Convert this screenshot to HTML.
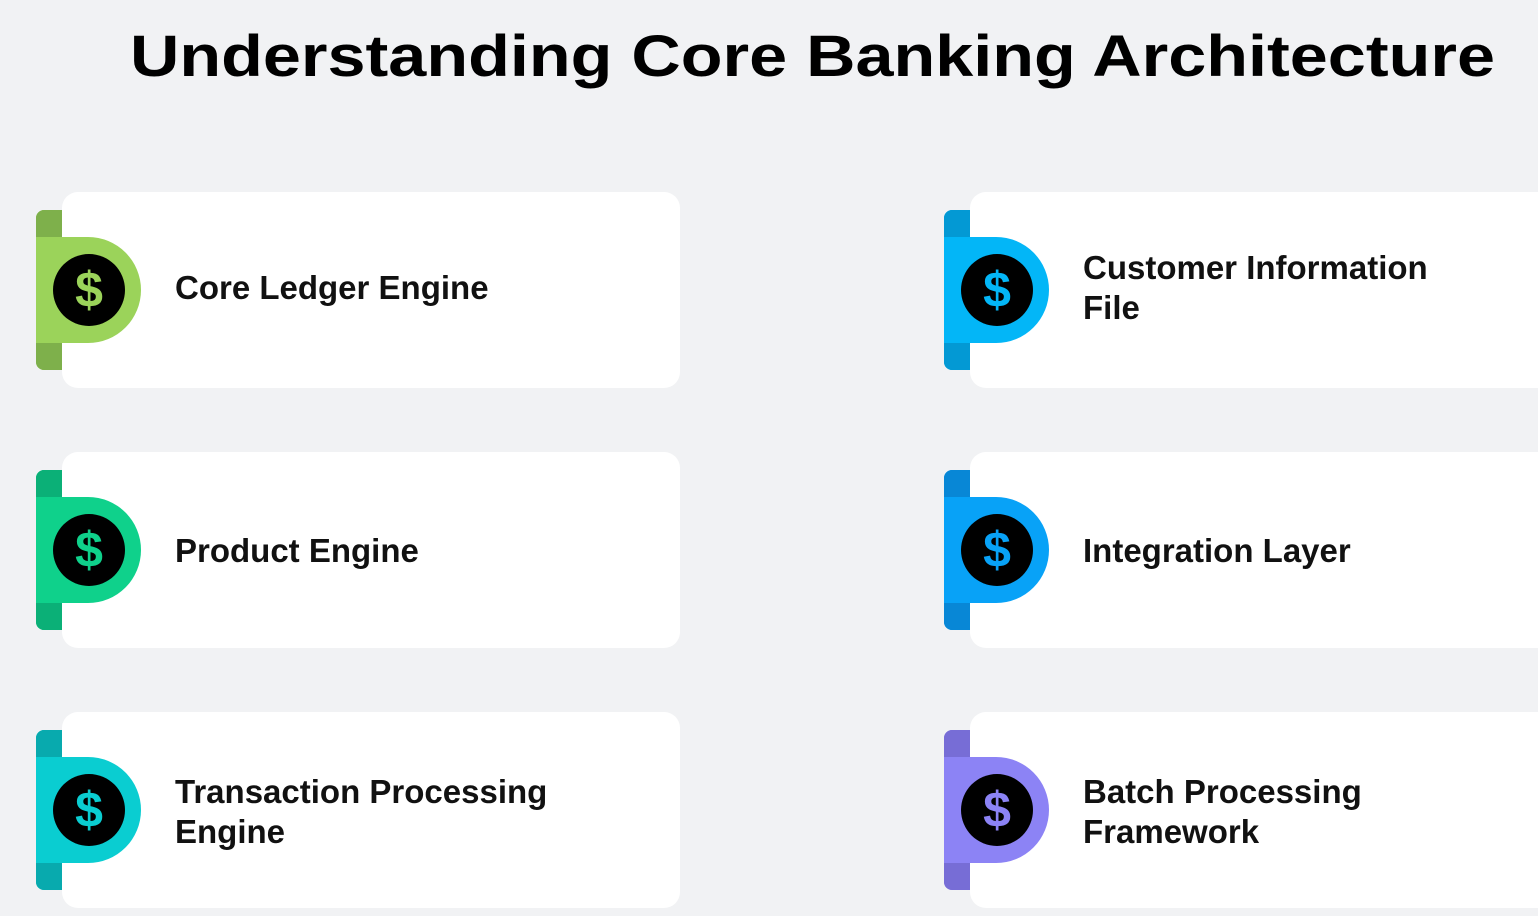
<!DOCTYPE html>
<html><head><style>
body{margin:0;width:1538px;height:916px;background:#f1f2f4;position:relative;overflow:hidden;font-family:"Liberation Sans",sans-serif}
.card{position:absolute;width:618px;height:196px;background:#fff;border-radius:16px}
.tab{position:absolute;width:26px;height:160px;border-radius:8px 0 0 8px}
.tab .t,.tab .b{position:absolute;left:0;width:26px;height:27px}
.tab .t{top:0;border-radius:8px 0 0 0}
.tab .b{bottom:0;border-radius:0 0 0 8px}
.d{position:absolute;width:105px;height:106px;border-radius:0 53px 53px 0}
.c{position:absolute;width:72px;height:72px;border-radius:50%;background:#000;text-align:center;line-height:72px;font-weight:bold;font-size:50px}
.lbl{position:absolute;font-weight:bold;font-size:33px;line-height:40px;color:#111;font-family:"Liberation Sans",sans-serif}
</style></head><body>
<svg style="position:absolute;left:0;top:0" width="1538" height="100"><text x="130" y="76" textLength="1365" lengthAdjust="spacingAndGlyphs" font-family="Liberation Sans" font-weight="bold" font-size="58" fill="#000">Understanding Core Banking Architecture</text></svg>

<div class="card" style="left:62px;top:192px"></div>
<div class="card" style="left:62px;top:452px"></div>
<div class="card" style="left:62px;top:712px"></div>
<div class="card" style="left:970px;top:192px"></div>
<div class="card" style="left:970px;top:452px"></div>
<div class="card" style="left:970px;top:712px"></div>

<div class="tab" style="left:36px;top:210px;background:#9bd35a"><div class="t" style="background:#7eb04b"></div><div class="b" style="background:#7eb04b"></div></div>
<div class="d" style="left:36px;top:237px;background:#9bd35a"></div>
<div class="c" style="left:53px;top:254px;color:#9bd35a">$</div>

<div class="tab" style="left:36px;top:470px;background:#0fd18b"><div class="t" style="background:#0bb077"></div><div class="b" style="background:#0bb077"></div></div>
<div class="d" style="left:36px;top:497px;background:#0fd18b"></div>
<div class="c" style="left:53px;top:514px;color:#0fd18b">$</div>

<div class="tab" style="left:36px;top:730px;background:#0acdd1"><div class="t" style="background:#08aaae"></div><div class="b" style="background:#08aaae"></div></div>
<div class="d" style="left:36px;top:757px;background:#0acdd1"></div>
<div class="c" style="left:53px;top:774px;color:#0acdd1">$</div>

<div class="tab" style="left:944px;top:210px;background:#03b6f7"><div class="t" style="background:#0399d4"></div><div class="b" style="background:#0399d4"></div></div>
<div class="d" style="left:944px;top:237px;background:#03b6f7"></div>
<div class="c" style="left:961px;top:254px;color:#03b6f7">$</div>

<div class="tab" style="left:944px;top:470px;background:#08a2f7"><div class="t" style="background:#0887d6"></div><div class="b" style="background:#0887d6"></div></div>
<div class="d" style="left:944px;top:497px;background:#08a2f7"></div>
<div class="c" style="left:961px;top:514px;color:#08a2f7">$</div>

<div class="tab" style="left:944px;top:730px;background:#8c83f5"><div class="t" style="background:#776dd6"></div><div class="b" style="background:#776dd6"></div></div>
<div class="d" style="left:944px;top:757px;background:#8c83f5"></div>
<div class="c" style="left:961px;top:774px;color:#8c83f5">$</div>

<div class="lbl" style="left:175px;top:268px">Core Ledger Engine</div>
<div class="lbl" style="left:175px;top:531px">Product Engine</div>
<div class="lbl" style="left:175px;top:772px">Transaction Processing<br>Engine</div>
<div class="lbl" style="left:1083px;top:248px">Customer Information<br>File</div>
<div class="lbl" style="left:1083px;top:531px">Integration Layer</div>
<div class="lbl" style="left:1083px;top:772px">Batch Processing<br>Framework</div>
</body></html>
